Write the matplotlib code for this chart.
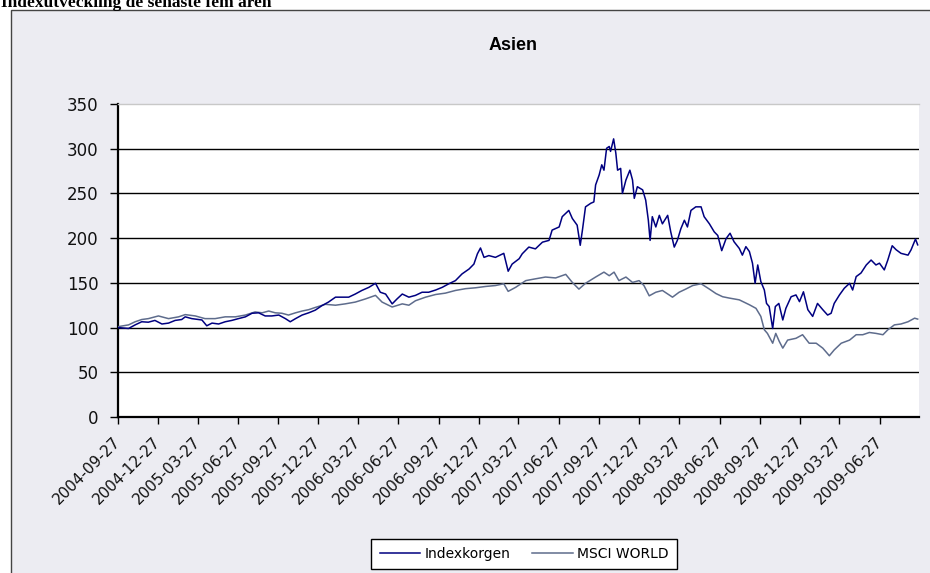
import numpy as np
import pandas as pd
import matplotlib
matplotlib.use("Agg")
import matplotlib.pyplot as plt
from matplotlib.patches import Rectangle

# Indexkorgen (Asien)
ik_dates = [
    "2004-09-27", "2004-10-21", "2004-11-05", "2004-11-20", "2004-12-05", "2004-12-20",
    "2005-01-05", "2005-01-20", "2005-02-04", "2005-02-19", "2005-02-27", "2005-03-14",
    "2005-04-06", "2005-04-17", "2005-04-29", "2005-05-14", "2005-05-29", "2005-06-13",
    "2005-06-28", "2005-07-14", "2005-07-29", "2005-08-13", "2005-08-28", "2005-09-12",
    "2005-09-28", "2005-10-13", "2005-10-24", "2005-11-05", "2005-11-20", "2005-12-05",
    "2005-12-20", "2006-01-04", "2006-01-19", "2006-02-04", "2006-02-19", "2006-03-06",
    "2006-03-21", "2006-04-05", "2006-04-21", "2006-05-06", "2006-05-17", "2006-05-29",
    "2006-06-13", "2006-06-24", "2006-07-06", "2006-07-21", "2006-08-05", "2006-08-20",
    "2006-09-04", "2006-09-20", "2006-10-05", "2006-10-20", "2006-11-04", "2006-11-19",
    "2006-12-05", "2006-12-16", "2006-12-24", "2006-12-31", "2007-01-08", "2007-01-19",
    "2007-02-03", "2007-02-22", "2007-02-26", "2007-03-04", "2007-03-13", "2007-03-29",
    "2007-04-05", "2007-04-20", "2007-05-05", "2007-05-21", "2007-06-05", "2007-06-12",
    "2007-06-28", "2007-07-05", "2007-07-20", "2007-07-28", "2007-08-08", "2007-08-15",
    "2007-08-20", "2007-08-27", "2007-09-08", "2007-09-15", "2007-09-19", "2007-09-27",
    "2007-10-03", "2007-10-08", "2007-10-14", "2007-10-20", "2007-10-23", "2007-10-30",
    "2007-11-04", "2007-11-08", "2007-11-15", "2007-11-19", "2007-11-27", "2007-12-06",
    "2007-12-12", "2007-12-16", "2007-12-23", "2008-01-04", "2008-01-11", "2008-01-17",
    "2008-01-21", "2008-01-26", "2008-02-03", "2008-02-11", "2008-02-18", "2008-03-01",
    "2008-03-08", "2008-03-16", "2008-03-23", "2008-03-31", "2008-04-08", "2008-04-15",
    "2008-04-23", "2008-05-04", "2008-05-16", "2008-05-23", "2008-06-04", "2008-06-15",
    "2008-06-23", "2008-07-02", "2008-07-12", "2008-07-21", "2008-07-30", "2008-08-11",
    "2008-08-18", "2008-08-26", "2008-09-03", "2008-09-10", "2008-09-16", "2008-09-22",
    "2008-09-29", "2008-10-07", "2008-10-12", "2008-10-18", "2008-10-26", "2008-11-01",
    "2008-11-09", "2008-11-18", "2008-11-25", "2008-12-07", "2008-12-18", "2008-12-26",
    "2009-01-04", "2009-01-14", "2009-01-25", "2009-02-05", "2009-02-17", "2009-02-28",
    "2009-03-08", "2009-03-15", "2009-03-27", "2009-04-07", "2009-04-19", "2009-04-26",
    "2009-05-04", "2009-05-15", "2009-05-27", "2009-06-07", "2009-06-18", "2009-06-26",
    "2009-07-07", "2009-07-15", "2009-07-25", "2009-08-03", "2009-08-14", "2009-08-30",
    "2009-09-06", "2009-09-16", "2009-09-21",
]
ik_values = [
    100, 99, 103, 106.5, 106, 108,
    104, 105, 108, 109, 112, 110,
    108.5, 102, 105, 104, 106.5, 108,
    110, 112, 116, 116.5, 113, 113,
    114, 110, 106.5, 110, 114, 116.5,
    119.5, 124.5, 128.5, 134, 134, 134,
    137.5, 141.5, 145, 149.5, 139.5, 137.5,
    126.5, 132, 137.5, 134, 136, 139.5,
    139.5, 142, 145, 149, 152.5, 160,
    165.5, 171, 182.5, 189, 178.5, 180.5,
    178.5, 183, 175, 163, 171, 177,
    182.5, 190, 188, 195.5, 197.5, 209,
    212.5, 224, 231, 222, 214.5, 192,
    209, 235, 239, 240.5, 259.5, 270.5,
    282, 276, 300.5, 302.5, 297, 311,
    295, 276, 278, 250, 265, 276,
    265, 244.5, 257.5, 254, 242.5, 220,
    197.5, 224, 212.5, 225.5, 216, 225.5,
    207, 190, 197.5, 210.5, 220, 212.5,
    231, 235, 235, 224, 216, 207,
    203, 186, 199.5, 205.5, 196, 188.5,
    181, 190.5, 185, 172, 149.5, 170,
    151.5, 142, 127, 123.5, 99, 123.5,
    127, 108.5, 121.5, 134.5, 136.5, 129,
    140, 120, 112.5, 127, 120, 114,
    116, 127, 136.5, 144, 149.5, 142,
    157, 161, 170, 175.5, 170, 172,
    164.5, 175.5, 191.5, 187, 183, 181,
    187, 199, 192.5,
]

# MSCI WORLD
ms_dates = [
    "2004-09-27", "2004-10-21", "2004-11-05", "2004-11-20", "2004-12-05", "2004-12-28",
    "2005-01-20", "2005-02-12", "2005-02-27", "2005-03-22", "2005-04-13", "2005-05-06",
    "2005-05-29", "2005-06-21", "2005-07-14", "2005-08-05", "2005-08-21", "2005-09-05",
    "2005-09-20", "2005-10-05", "2005-10-20", "2005-11-05", "2005-11-20", "2005-12-05",
    "2005-12-20", "2006-01-12", "2006-02-04", "2006-02-26", "2006-03-21", "2006-04-13",
    "2006-05-06", "2006-05-21", "2006-06-13", "2006-07-06", "2006-07-21", "2006-08-05",
    "2006-08-28", "2006-09-20", "2006-10-12", "2006-11-04", "2006-11-27", "2006-12-20",
    "2007-01-12", "2007-02-03", "2007-02-22", "2007-03-04", "2007-03-21", "2007-04-13",
    "2007-05-05", "2007-05-28", "2007-06-20", "2007-07-13", "2007-07-28", "2007-08-12",
    "2007-08-27", "2007-09-19", "2007-10-08", "2007-10-20", "2007-10-31", "2007-11-11",
    "2007-11-27", "2007-12-12", "2007-12-27", "2008-01-07", "2008-01-19", "2008-02-03",
    "2008-02-18", "2008-03-12", "2008-03-27", "2008-04-11", "2008-04-27", "2008-05-16",
    "2008-06-04", "2008-06-19", "2008-07-04", "2008-07-19", "2008-08-11", "2008-09-03",
    "2008-09-18", "2008-09-29", "2008-10-07", "2008-10-14", "2008-10-26", "2008-11-02",
    "2008-11-10", "2008-11-18", "2008-11-29", "2008-12-18", "2009-01-02", "2009-01-17",
    "2009-02-02", "2009-02-17", "2009-03-04", "2009-03-15", "2009-03-31", "2009-04-19",
    "2009-05-04", "2009-05-19", "2009-06-03", "2009-06-18", "2009-07-04", "2009-07-15",
    "2009-07-30", "2009-08-14", "2009-08-30", "2009-09-14", "2009-09-21",
]
ms_values = [
    101, 103, 106.5, 109, 110, 113,
    110, 112, 114.5, 113, 110, 110,
    112, 112, 114, 117.5, 116.5, 118.5,
    116.5, 116, 114, 116.5, 118.5, 120,
    122.5, 126, 125, 126.5, 128.5, 132,
    136, 128.5, 123, 126.5, 125, 130,
    134, 137, 138.5, 141.5, 143.5, 144.5,
    146, 147, 149, 140.5, 145, 152.5,
    154.5, 156.5, 155.5, 159.5, 150.5, 143,
    149.5, 156.5, 162, 158, 162, 152.5,
    156.5, 150.5, 152.5, 147, 135.5, 139.5,
    141.5, 134, 139.5, 143, 147, 149,
    143, 138, 134.5, 133, 131, 125.5,
    121.5, 112.5, 97.5, 93.5, 82.5, 93.5,
    84.5, 77, 86, 88, 92, 82.5,
    82.5, 77, 68.5, 75, 82.5, 86,
    92, 92, 94.5, 93.5, 92, 97.5,
    103, 104, 106.5, 110.5, 109.5,
]

tick_labels = [
    "2004-09-27", "2004-12-27", "2005-03-27", "2005-06-27", "2005-09-27",
    "2005-12-27", "2006-03-27", "2006-06-27", "2006-09-27", "2006-12-27",
    "2007-03-27", "2007-06-27", "2007-09-27", "2007-12-27", "2008-03-27",
    "2008-06-27", "2008-09-27", "2008-12-27", "2009-03-27", "2009-06-27",
]
y_ticks = [0, 50, 100, 150, 200, 250, 300, 350]

W, H = 930, 573
bg = "#ECECF2"

fig = plt.figure(figsize=(W / 100, H / 100), dpi=100, facecolor="white")

# outer chart frame, drawn behind everything
fig.patches.append(Rectangle((11 / W, -0.1), 1.2, 1 - 10 / H + 0.1,
                             transform=fig.transFigure, facecolor=bg,
                             edgecolor="#444444", lw=1, zorder=-10))

fig.text(1 / W, 1 - 7 / H, "Indexutveckling de senaste fem åren",
         family="Liberation Serif", weight="bold", fontsize=12.5,
         ha="left", va="baseline")

ax = fig.add_axes([118 / W, 1 - 417 / H, (919 - 118) / W, (417 - 104) / H])
ax.set_zorder(1)
ax.set_facecolor("white")

ax.plot(pd.to_datetime(ms_dates), ms_values, color="#5E6C8C", lw=1.1,
        label="MSCI WORLD", zorder=3)
ax.plot(pd.to_datetime(ik_dates), ik_values, color="#000080", lw=1.1,
        label="Indexkorgen", zorder=4)

ax.set_ylim(0, 350)
ax.set_xlim(pd.Timestamp("2004-09-27"), pd.Timestamp("2009-09-24"))
ax.set_yticks(y_ticks)
ax.set_xticks(pd.to_datetime(tick_labels))
ax.set_xticklabels(tick_labels, rotation=45, ha="right", va="center",
                   rotation_mode="anchor", fontsize=11, color="#111111")

for v in y_ticks[1:-1]:
    ax.axhline(v, color="black", lw=1, zorder=1)

for s in ["left", "bottom"]:
    ax.spines[s].set_linewidth(1.6)
    ax.spines[s].set_color("black")
ax.spines["right"].set_visible(False)
ax.spines["top"].set_color("#C8C8C8")
ax.spines["top"].set_linewidth(1)

ax.tick_params(axis="y", direction="out", length=6, width=1, labelsize=12,
               pad=8, labelcolor="#111111")
ax.tick_params(axis="x", direction="out", length=5, width=1, pad=11)

ax.set_title("Asien", family="Liberation Sans", weight="bold", fontsize=13,
             x=(513 - 118) / (919 - 118), y=1.145)

handles, labels = ax.get_legend_handles_labels()
leg = fig.legend(handles[::-1], labels[::-1], loc="center",
                 bbox_to_anchor=(524 / W, 1 - 554 / H), ncol=2,
                 fontsize=10, frameon=True, fancybox=False, framealpha=1,
                 edgecolor="black", handlelength=2.9, handletextpad=0.3,
                 columnspacing=1.6, borderpad=0.6)
leg.set_zorder(5)
leg.get_frame().set_linewidth(1)

fig.savefig("out.png", dpi=100, facecolor="white")
